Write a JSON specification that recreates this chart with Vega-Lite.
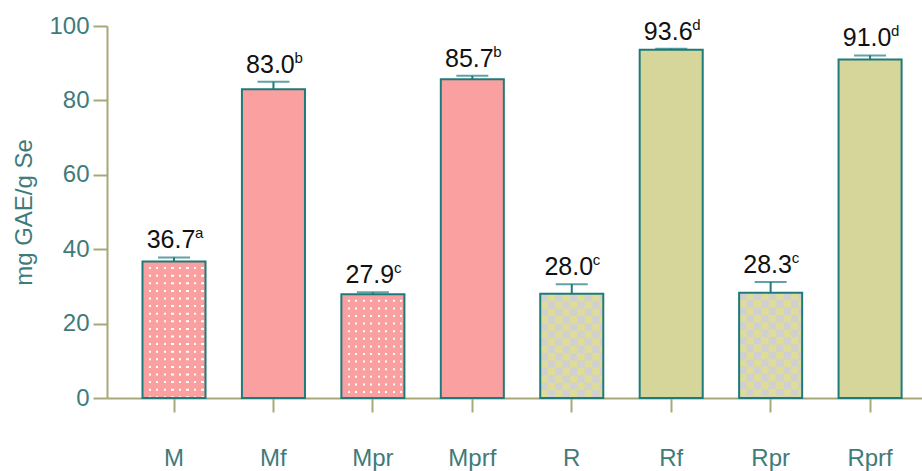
{
  "$schema": "https://vega.github.io/schema/vega-lite/v6.json",
  "width": 815,
  "height": 372,
  "autosize": {"type": "none"},
  "padding": {"left": 107, "top": 26, "right": 0, "bottom": 73},
  "background": "white",
  "config": {
    "view": {"stroke": null},
    "font": "Liberation Sans",
    "axis": {
      "domainColor": "#A8A878",
      "domainWidth": 2,
      "tickColor": "#A8A878",
      "tickWidth": 2,
      "tickSize": 14,
      "grid": false,
      "labelColor": "#3F7B7B",
      "labelFont": "Liberation Sans",
      "titleFont": "Liberation Sans",
      "titleColor": "#3F7B7B",
      "titleFontWeight": "normal"
    }
  },
  "data": {
    "values": [
      {"cat": "M", "grp": "M", "value": 36.7, "hi": 37.8, "letter": "a"},
      {"cat": "Mf", "grp": "M", "value": 83.0, "hi": 85.0, "letter": "b"},
      {"cat": "Mpr", "grp": "M", "value": 27.9, "hi": 28.4, "letter": "c"},
      {"cat": "Mprf", "grp": "M", "value": 85.7, "hi": 86.6, "letter": "b"},
      {"cat": "R", "grp": "R", "value": 28.0, "hi": 30.6, "letter": "c"},
      {"cat": "Rf", "grp": "R", "value": 93.6, "hi": 93.9, "letter": "d"},
      {"cat": "Rpr", "grp": "R", "value": 28.3, "hi": 31.2, "letter": "c"},
      {"cat": "Rprf", "grp": "R", "value": 91.0, "hi": 92.1, "letter": "d"}
    ]
  },
  "encoding": {
    "x": {
      "field": "cat",
      "type": "nominal",
      "sort": null,
      "scale": {"paddingInner": 0.366, "paddingOuter": 0.281, "align": 0.635},
      "axis": {"title": null, "labelAngle": 0, "labelFontSize": 24, "labelPadding": 34}
    }
  },
  "layer": [
    {
      "mark": {"type": "bar"},
      "encoding": {
        "y": {
          "field": "value",
          "type": "quantitative",
          "title": "mg GAE/g Se",
          "scale": {"domain": [0, 100], "nice": false},
          "axis": {"titleFontSize": 24, "titlePadding": 12, "values": [0, 20, 40, 60, 80, 100], "labelFontSize": 24, "labelPadding": 4}
        },
        "fill": {"field": "cat", "type": "nominal", "scale": {"domain": ["M", "Mf", "Mpr", "Mprf", "R", "Rf", "Rpr", "Rprf"], "range": ["#FBA0A0", "#FBA0A0", "#FBA0A0", "#FBA0A0", "#DEDC98", "#D6D69A", "#DEDC98", "#D6D69A"]}, "legend": null}
      }
    },
    {
      "transform": [{"filter": {"field": "cat", "oneOf": ["M", "Mpr"]}}],
      "mark": {
        "type": "bar",
        "fill": {
          "gradient": "linear", "x1": 0, "y1": 0, "x2": 1, "y2": 0,
          "stops": [
            {"offset": 0, "color": "rgba(255,255,255,0)"},
            {"offset": 0.103, "color": "rgba(255,255,255,0)"}, {"offset": 0.103, "color": "#ffffff"}, {"offset": 0.135, "color": "#ffffff"}, {"offset": 0.135, "color": "rgba(255,255,255,0)"},
            {"offset": 0.222, "color": "rgba(255,255,255,0)"}, {"offset": 0.222, "color": "#ffffff"}, {"offset": 0.254, "color": "#ffffff"}, {"offset": 0.254, "color": "rgba(255,255,255,0)"},
            {"offset": 0.341, "color": "rgba(255,255,255,0)"}, {"offset": 0.341, "color": "#ffffff"}, {"offset": 0.373, "color": "#ffffff"}, {"offset": 0.373, "color": "rgba(255,255,255,0)"},
            {"offset": 0.46, "color": "rgba(255,255,255,0)"}, {"offset": 0.46, "color": "#ffffff"}, {"offset": 0.492, "color": "#ffffff"}, {"offset": 0.492, "color": "rgba(255,255,255,0)"},
            {"offset": 0.579, "color": "rgba(255,255,255,0)"}, {"offset": 0.579, "color": "#ffffff"}, {"offset": 0.611, "color": "#ffffff"}, {"offset": 0.611, "color": "rgba(255,255,255,0)"},
            {"offset": 0.698, "color": "rgba(255,255,255,0)"}, {"offset": 0.698, "color": "#ffffff"}, {"offset": 0.73, "color": "#ffffff"}, {"offset": 0.73, "color": "rgba(255,255,255,0)"},
            {"offset": 0.817, "color": "rgba(255,255,255,0)"}, {"offset": 0.817, "color": "#ffffff"}, {"offset": 0.849, "color": "#ffffff"}, {"offset": 0.849, "color": "rgba(255,255,255,0)"},
            {"offset": 0.936, "color": "rgba(255,255,255,0)"}, {"offset": 0.936, "color": "#ffffff"}, {"offset": 0.968, "color": "#ffffff"}, {"offset": 0.968, "color": "rgba(255,255,255,0)"},
            {"offset": 1, "color": "rgba(255,255,255,0)"}
          ]
        }
      },
      "encoding": {"y": {"field": "value", "type": "quantitative", "title": "mg GAE/g Se"}}
    },
    {
      "transform": [{"filter": {"field": "cat", "oneOf": ["M", "Mpr"]}}],
      "mark": {"type": "rule", "stroke": "#FBA0A0", "strokeWidth": 61, "strokeDash": [5.6, 2]},
      "encoding": {"y": {"field": "value", "type": "quantitative", "title": "mg GAE/g Se"}, "y2": {"datum": 0}}
    },
    {
      "transform": [{"filter": {"field": "cat", "oneOf": ["R", "Rpr"]}}],
      "mark": {"type": "rule", "stroke": "#D0D0D0", "strokeWidth": 7.41, "strokeDash": [7.4, 7.4], "strokeDashOffset": 0},
      "encoding": {"x": {"field": "cat", "type": "nominal", "sort": null, "bandPosition": 0.0588}, "y": {"field": "value", "type": "quantitative", "title": "mg GAE/g Se"}, "y2": {"datum": 0}}
    },
    {
      "transform": [{"filter": {"field": "cat", "oneOf": ["R", "Rpr"]}}],
      "mark": {"type": "rule", "stroke": "#D0D0D0", "strokeWidth": 7.41, "strokeDash": [7.4, 7.4], "strokeDashOffset": 7.4},
      "encoding": {"x": {"field": "cat", "type": "nominal", "sort": null, "bandPosition": 0.1765}, "y": {"field": "value", "type": "quantitative", "title": "mg GAE/g Se"}, "y2": {"datum": 0}}
    },
    {
      "transform": [{"filter": {"field": "cat", "oneOf": ["R", "Rpr"]}}],
      "mark": {"type": "rule", "stroke": "#D0D0D0", "strokeWidth": 7.41, "strokeDash": [7.4, 7.4], "strokeDashOffset": 0},
      "encoding": {"x": {"field": "cat", "type": "nominal", "sort": null, "bandPosition": 0.2941}, "y": {"field": "value", "type": "quantitative", "title": "mg GAE/g Se"}, "y2": {"datum": 0}}
    },
    {
      "transform": [{"filter": {"field": "cat", "oneOf": ["R", "Rpr"]}}],
      "mark": {"type": "rule", "stroke": "#D0D0D0", "strokeWidth": 7.41, "strokeDash": [7.4, 7.4], "strokeDashOffset": 7.4},
      "encoding": {"x": {"field": "cat", "type": "nominal", "sort": null, "bandPosition": 0.4118}, "y": {"field": "value", "type": "quantitative", "title": "mg GAE/g Se"}, "y2": {"datum": 0}}
    },
    {
      "transform": [{"filter": {"field": "cat", "oneOf": ["R", "Rpr"]}}],
      "mark": {"type": "rule", "stroke": "#D0D0D0", "strokeWidth": 7.41, "strokeDash": [7.4, 7.4], "strokeDashOffset": 0},
      "encoding": {"x": {"field": "cat", "type": "nominal", "sort": null, "bandPosition": 0.5294}, "y": {"field": "value", "type": "quantitative", "title": "mg GAE/g Se"}, "y2": {"datum": 0}}
    },
    {
      "transform": [{"filter": {"field": "cat", "oneOf": ["R", "Rpr"]}}],
      "mark": {"type": "rule", "stroke": "#D0D0D0", "strokeWidth": 7.41, "strokeDash": [7.4, 7.4], "strokeDashOffset": 7.4},
      "encoding": {"x": {"field": "cat", "type": "nominal", "sort": null, "bandPosition": 0.6471}, "y": {"field": "value", "type": "quantitative", "title": "mg GAE/g Se"}, "y2": {"datum": 0}}
    },
    {
      "transform": [{"filter": {"field": "cat", "oneOf": ["R", "Rpr"]}}],
      "mark": {"type": "rule", "stroke": "#D0D0D0", "strokeWidth": 7.41, "strokeDash": [7.4, 7.4], "strokeDashOffset": 0},
      "encoding": {"x": {"field": "cat", "type": "nominal", "sort": null, "bandPosition": 0.7647}, "y": {"field": "value", "type": "quantitative", "title": "mg GAE/g Se"}, "y2": {"datum": 0}}
    },
    {
      "transform": [{"filter": {"field": "cat", "oneOf": ["R", "Rpr"]}}],
      "mark": {"type": "rule", "stroke": "#D0D0D0", "strokeWidth": 7.41, "strokeDash": [7.4, 7.4], "strokeDashOffset": 7.4},
      "encoding": {"x": {"field": "cat", "type": "nominal", "sort": null, "bandPosition": 0.8824}, "y": {"field": "value", "type": "quantitative", "title": "mg GAE/g Se"}, "y2": {"datum": 0}}
    },
    {
      "transform": [{"filter": {"field": "cat", "oneOf": ["R", "Rpr"]}}],
      "mark": {"type": "rule", "stroke": "#D0D0D0", "strokeWidth": 3.7, "strokeDash": [7.4, 7.4], "strokeDashOffset": 0},
      "encoding": {"x": {"field": "cat", "type": "nominal", "sort": null, "bandPosition": 0.9706}, "y": {"field": "value", "type": "quantitative", "title": "mg GAE/g Se"}, "y2": {"datum": 0}}
    },
    {
      "mark": {"type": "bar", "fill": "white", "fillOpacity": 0, "stroke": "#1F7A7A", "strokeWidth": 2},
      "encoding": {"y": {"field": "value", "type": "quantitative", "title": "mg GAE/g Se"}}
    },
    {
      "mark": {"type": "rule", "stroke": "#1F7A7A", "strokeWidth": 2},
      "encoding": {"y": {"field": "value", "type": "quantitative", "title": "mg GAE/g Se"}, "y2": {"field": "hi"}}
    },
    {
      "mark": {"type": "tick", "orient": "horizontal", "color": "#1F7A7A", "size": 32, "thickness": 2},
      "encoding": {"y": {"field": "hi", "type": "quantitative", "title": "mg GAE/g Se"}}
    },
    {
      "mark": {"type": "text", "fontSize": 25, "baseline": "alphabetic", "dx": -3, "dy": -9, "color": "#111111"},
      "encoding": {
        "y": {"field": "hi", "type": "quantitative", "title": "mg GAE/g Se"},
        "text": {"field": "value", "type": "quantitative", "format": ".1f"}
      }
    },
    {
      "mark": {"type": "text", "fontSize": 15, "baseline": "alphabetic", "align": "left", "dx": 21, "dy": -19, "color": "#111111"},
      "encoding": {
        "y": {"field": "hi", "type": "quantitative", "title": "mg GAE/g Se"},
        "text": {"field": "letter", "type": "nominal"}
      }
    }
  ]
}
